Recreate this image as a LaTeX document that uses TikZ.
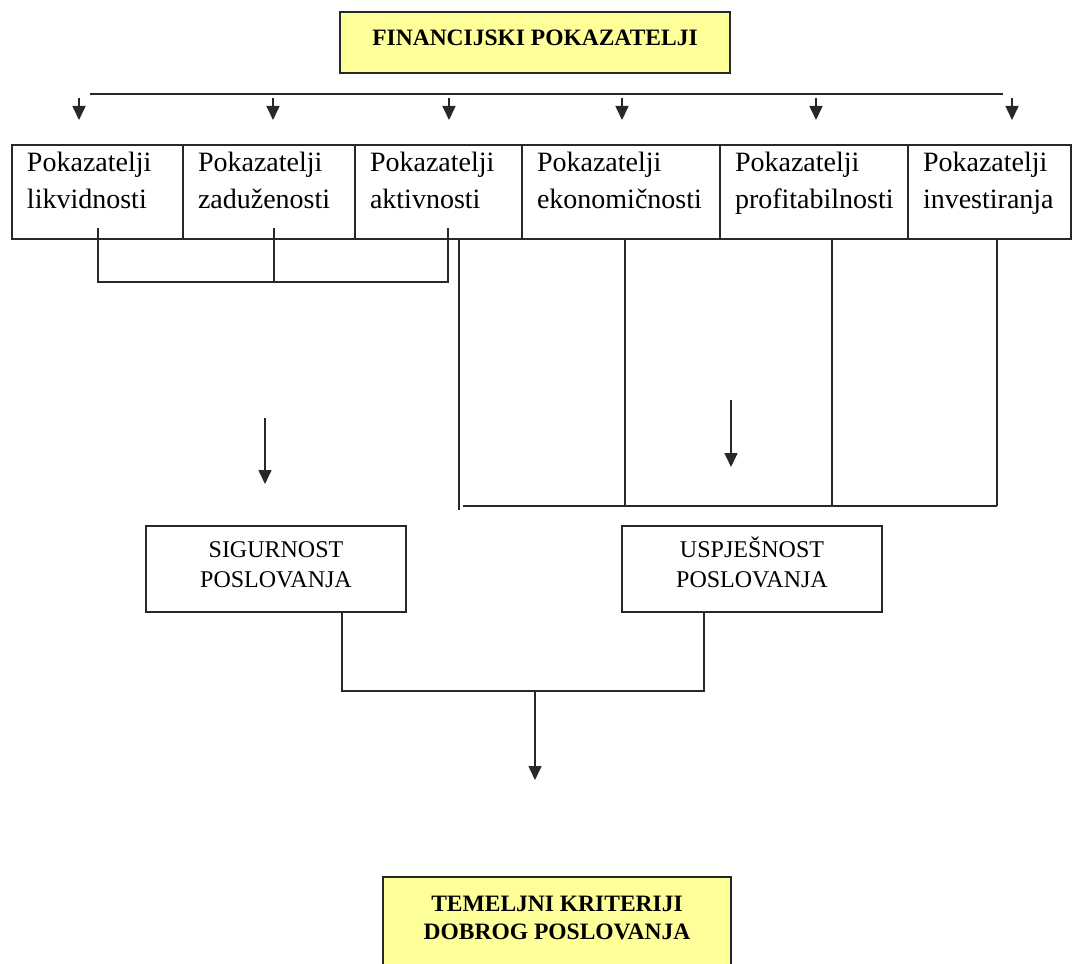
\documentclass[tikz,border=0pt]{standalone}
\usepackage{fontspec}
\setmainfont{Liberation Serif}
\usetikzlibrary{arrows.meta}

\definecolor{boxyellow}{RGB}{255,255,153}
\definecolor{linegray}{RGB}{40,40,40}

% text block of a box: width, height, height of the first line, text
\newcommand{\boxtext}[4]{\parbox[c][#2][t]{#1}{\centering\rule{0pt}{#3}#4}}
\newcommand{\celltext}[2]{\parbox[c][94pt][t]{#1}{\raggedright\leftskip=15pt\rule{0pt}{26pt}#2}}

\begin{document}
\begin{tikzpicture}[x=1pt, y=-1pt,
    plainbox/.style={draw=linegray, line width=1.8pt, inner sep=0pt, outer sep=0pt, anchor=north west},
    yellowbox/.style={plainbox, fill=boxyellow, font=\fontsize{23.5}{28}\selectfont\bfseries},
    cellbox/.style={plainbox, font=\fontsize{28}{37}\selectfont},
    resultbox/.style={plainbox, font=\fontsize{24}{30}\selectfont},
    conn/.style={draw=linegray, line width=1.6pt},
    arrow/.style={conn, -{Triangle[length=14pt, width=13pt]}}]
    \useasboundingbox (0,0) rectangle (1075,963);

    % title
    \node[yellowbox] (fin) at (340,12) {\boxtext{390pt}{61pt}{34pt}{FINANCIJSKI POKAZATELJI}};

    % row of indicators
    \node[cellbox] (likv) at (12,145) {\celltext{171pt}{Pokazatelji\\likvidnosti}};
    \node[cellbox] (zad) at (183,145) {\celltext{172pt}{Pokazatelji\\zaduženosti}};
    \node[cellbox] (akt) at (355,145) {\celltext{167pt}{Pokazatelji\\aktivnosti}};
    \node[cellbox] (ekon) at (522,145) {\celltext{198pt}{Pokazatelji\\ekonomičnosti}};
    \node[cellbox] (prof) at (720,145) {\celltext{188pt}{Pokazatelji\\profitabilnosti}};
    \node[cellbox] (inv) at (908,145) {\celltext{163pt}{Pokazatelji\\investiranja}};

    % distribution line with arrows
    \coordinate (bus west) at (90,94);
    \coordinate (bus east) at (1003,94);
    \draw[conn] (bus west) -- (bus east);
    \foreach \x/\n in {79/likv, 273/zad, 449/akt, 622/ekon, 816/prof, 1012/inv} {
        \coordinate (top \n) at (\x,98);
        \coordinate (tip \n) at (\x,120);
        \draw[arrow] (top \n) -- (tip \n);
    }

    % results
    \node[resultbox] (sig) at (146,526) {\boxtext{260pt}{86pt}{31pt}{SIGURNOST\\POSLOVANJA}};
    \node[resultbox] (usp) at (622,526) {\boxtext{260pt}{86pt}{31pt}{USPJEŠNOST\\POSLOVANJA}};
    \node[yellowbox] (tem) at (383,877) {\boxtext{348pt}{120pt}{34pt}{TEMELJNI KRITERIJI\\DOBROG POSLOVANJA}};

    % left group: likvidnost, zaduzenost, aktivnost
    \coordinate (likv foot) at (98,228);
    \coordinate (zad foot) at (274,228);
    \coordinate (akt foot) at (448,228);
    \coordinate (zad join) at (274,282);
    \draw[conn] (likv foot) |- (akt foot |- zad join) -- (akt foot);
    \draw[conn] (zad foot) -- (zad join);
    \coordinate (sig start) at (265,418);
    \coordinate (sig end) at (265,484);
    \draw[arrow] (sig start) -- (sig end);

    % right group: aktivnost, ekonomicnost, profitabilnost, investiranje
    \coordinate (akt foot2) at (459,239);
    \coordinate (akt low) at (459,510);
    \draw[conn] (akt foot2) -- (akt low);
    \coordinate (right west) at (463,506);
    \coordinate (right east) at (997,506);
    \draw[conn] (right west) -- (right east);
    \foreach \x/\n in {625/ekon, 832/prof, 997/inv}
        \draw[conn] (\x,239) -- (\x,506);
    \coordinate (usp start) at (731,400);
    \coordinate (usp end) at (731,467);
    \draw[arrow] (usp start) -- (usp end);

    % both results lead to the basic criteria
    \coordinate (sig foot) at (342,612);
    \coordinate (usp foot) at (704,612);
    \coordinate (mid join) at (535,691);
    \draw[conn] (sig foot) |- (usp foot |- mid join) -- (usp foot);
    \coordinate (tem tip) at (535,780);
    \draw[arrow] (mid join) -- (tem tip);
\end{tikzpicture}
\end{document}
